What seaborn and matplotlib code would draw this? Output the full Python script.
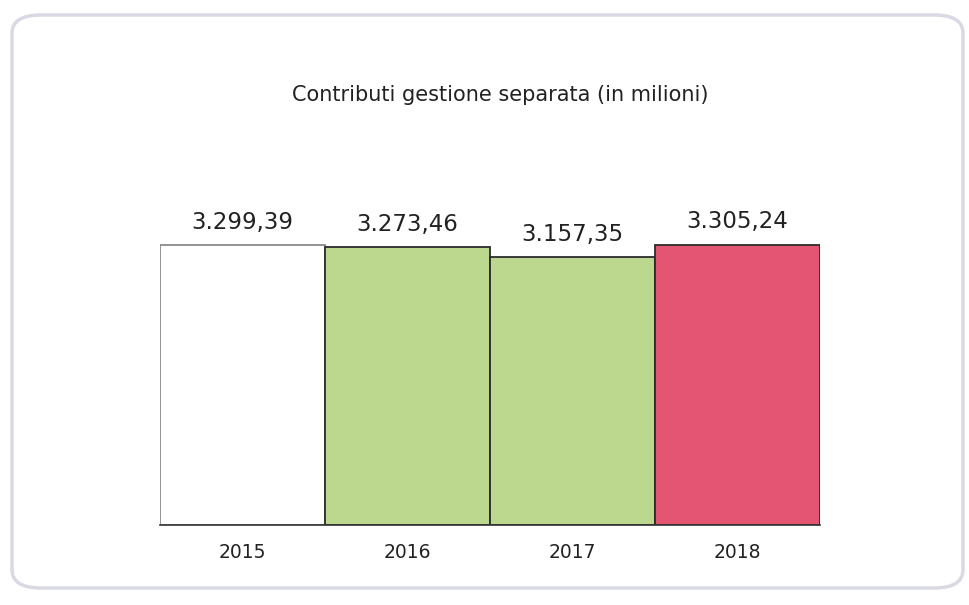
import seaborn as sns
import pandas as pd
import matplotlib.pyplot as plt
from matplotlib.patches import FancyBboxPatch

# data
years = ['2015', '2016', '2017', '2018']
contributi = [3299.39, 3273.46, 3157.35, 3305.24]
bar_colors = ['#ffffff', '#bcd88f', '#bcd88f', '#e45573']
edge_colors = ['#8a8a8a', '#2b2b2b', '#2b2b2b', '#2b2b2b']

df = pd.DataFrame({'anno': years, 'valore': contributi})

sns.set_style('white')
plt.rcParams['font.family'] = ['DejaVu Sans']

fig = plt.figure(figsize=(9.69, 6.05), dpi=100)
fig.patch.set_facecolor('white')

# rounded frame around the whole chart
frame = FancyBboxPatch((12 / 969, 1 - 588 / 605), 951 / 969, 573 / 605,
                       boxstyle='round,pad=0,rounding_size=0.03',
                       transform=fig.transFigure, facecolor='none',
                       edgecolor='#d9d9e3', linewidth=2.5, zorder=-1)
fig.patches.append(frame)

ax = fig.add_axes([160 / 969, 1 - 525 / 605, 660 / 969, 325 / 605])
ax.set_facecolor('none')

sns.barplot(data=df, x='anno', y='valore', hue='anno', palette=bar_colors,
            width=1.0, dodge=False, legend=False, saturation=1, ax=ax)

for patch, ec in zip(ax.patches, edge_colors):
    patch.set_edgecolor(ec)
    patch.set_linewidth(1.3)

for cont in ax.containers:
    labels = [f'{v:,.2f}'.replace(',', 'X').replace('.', ',').replace('X', '.')
              for v in cont.datavalues]
    ax.bar_label(cont, labels=labels, padding=8, fontsize=16.5, color='#222222')

ax.set_ylim(0, 3830)
ax.set_xlim(-0.5, 3.5)
ax.set_yticks([])
ax.set_xlabel('')
ax.set_ylabel('')
ax.tick_params(axis='x', length=0, pad=13, labelsize=13.5, labelcolor='#222222')
ax.set_xticks([0.5, 1.5, 2.5], minor=True)
ax.tick_params(axis='x', which='minor', length=6, color='#c8c8c8', width=1)

for side in ['top', 'right', 'left']:
    ax.spines[side].set_visible(False)
ax.spines['bottom'].set_color('#333333')
ax.spines['bottom'].set_linewidth(1.2)

fig.text(500 / 969, 1 - 95 / 605, 'Contributi gestione separata (in milioni)',
         ha='center', va='center', fontsize=15, color='#222222')

fig.savefig('out.png', dpi=100)
